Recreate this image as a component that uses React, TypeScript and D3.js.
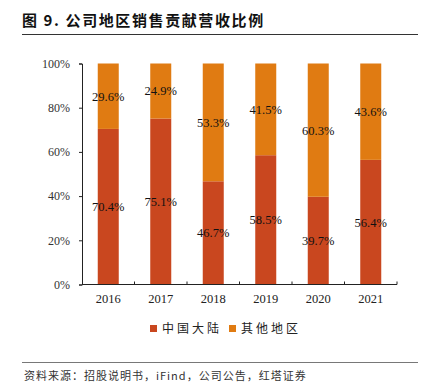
import React, { useRef, useEffect } from 'react';
import * as d3 from 'd3';

const years = ['2016', '2017', '2018', '2019', '2020', '2021'];
const mainland = [70.4, 75.1, 46.7, 58.5, 39.7, 56.4];
const other = [29.6, 24.9, 53.3, 41.5, 60.3, 43.6];
const seriesNames = ['中国大陆', '其他地区'];
const colors = ['#C9471F', '#E07B12'];
const yTicks = [0, 20, 40, 60, 80, 100];

const W = 427;
const H = 390;
const serif = '"Liberation Serif", "Times New Roman", serif';
const cjk = '"Noto Sans CJK SC", sans-serif';

const App: React.FC = () => {
  const svgRef = useRef<SVGSVGElement | null>(null);

  useEffect(() => {
    if (!svgRef.current) return;
    const svg = d3.select(svgRef.current);
    svg.selectAll('*').remove();

    // title + rules
    svg.append('text')
      .attr('x', 22).attr('y', 26)
      .attr('font-family', cjk).attr('font-size', 15).attr('font-weight', 'bold')
      .attr('letter-spacing', 1.6)
      .attr('fill', '#111')
      .text('图 9. 公司地区销售贡献营收比例');
    svg.append('line').attr('x1', 22).attr('x2', 418).attr('y1', 34.5).attr('y2', 34.5)
      .attr('stroke', '#333').attr('stroke-width', 1);
    svg.append('line').attr('x1', 22).attr('x2', 418).attr('y1', 362.5).attr('y2', 362.5)
      .attr('stroke', '#555').attr('stroke-width', 0.8);
    svg.append('text')
      .attr('x', 24).attr('y', 380)
      .attr('font-family', cjk).attr('font-size', 11).attr('fill', '#333')
      .attr('letter-spacing', 1)
      .text('资料来源：招股说明书，iFind，公司公告，红塔证券');

    const x = d3.scaleBand<string>().domain(years).range([82, 397]).paddingInner(0.6).paddingOuter(0.3);
    const y = d3.scaleLinear().domain([0, 100]).range([284.5, 63.5]);

    const stackData = years.map((yr, i) => ({ year: yr, a: mainland[i], b: other[i] }));
    const stacked = d3.stack<any>().keys(['a', 'b'])(stackData);

    const g = svg.append('g');
    stacked.forEach((layer, li) => {
      g.selectAll(null)
        .data(layer)
        .enter()
        .append('rect')
        .attr('x', (d: any) => x(d.data.year)!)
        .attr('width', x.bandwidth())
        .attr('y', (d: any) => y(d[1]))
        .attr('height', (d: any) => y(d[0]) - y(d[1]))
        .attr('fill', colors[li]);
    });
    stacked.forEach((layer) => {
      g.selectAll(null)
        .data(layer)
        .enter()
        .append('text')
        .attr('x', (d: any) => x(d.data.year)! + x.bandwidth() / 2)
        .attr('y', (d: any) => (y(d[0]) + y(d[1])) / 2)
        .attr('dy', '0.35em')
        .attr('text-anchor', 'middle')
        .attr('font-family', serif).attr('font-size', 12.5).attr('fill', '#111')
        .text((d: any) => (d[1] - d[0]).toFixed(1) + '%');
    });

    // y axis
    const yAxis = svg.append('g').attr('transform', 'translate(82,0)')
      .call(d3.axisLeft(y).tickValues(yTicks).tickFormat((d: any) => d + '%').tickSize(3).tickSizeOuter(3));
    yAxis.select('.domain').attr('stroke', '#222');
    yAxis.selectAll('.tick line').attr('stroke', '#222');
    yAxis.selectAll('.tick text')
      .attr('x', -12)
      .attr('font-family', serif).attr('font-size', 12).attr('fill', '#333');

    // x axis with ticks between bands
    const xAxis = svg.append('g').attr('transform', 'translate(0,284.5)');
    xAxis.append('line').attr('x1', 82).attr('x2', 397).attr('stroke', '#222');
    const step = x.step();
    xAxis.selectAll(null)
      .data(years)
      .enter()
      .append('line')
      .attr('x1', (d) => x(d)! + x.bandwidth() / 2 + step / 2)
      .attr('x2', (d) => x(d)! + x.bandwidth() / 2 + step / 2)
      .attr('y1', 0).attr('y2', -3)
      .attr('stroke', '#222');
    xAxis.selectAll(null)
      .data(years)
      .enter()
      .append('text')
      .attr('x', (d) => x(d)! + x.bandwidth() / 2)
      .attr('y', 18)
      .attr('text-anchor', 'middle')
      .attr('font-family', serif).attr('font-size', 12.5).attr('fill', '#222')
      .text((d) => d);

    // legend
    const legendX = [150, 229];
    const lg = svg.append('g');
    seriesNames.forEach((name, i) => {
      lg.append('rect').attr('x', legendX[i]).attr('y', 325).attr('width', 7).attr('height', 7).attr('fill', colors[i]);
      lg.append('text').attr('x', legendX[i] + 12).attr('y', 333)
        .attr('font-family', cjk).attr('font-size', 12).attr('fill', '#222')
        .attr('letter-spacing', 3)
        .text(name);
    });
  }, []);

  return <svg ref={svgRef} width={W} height={H} style={{ position: 'absolute', left: 0, top: 0 }}></svg>;
};

export default App;
